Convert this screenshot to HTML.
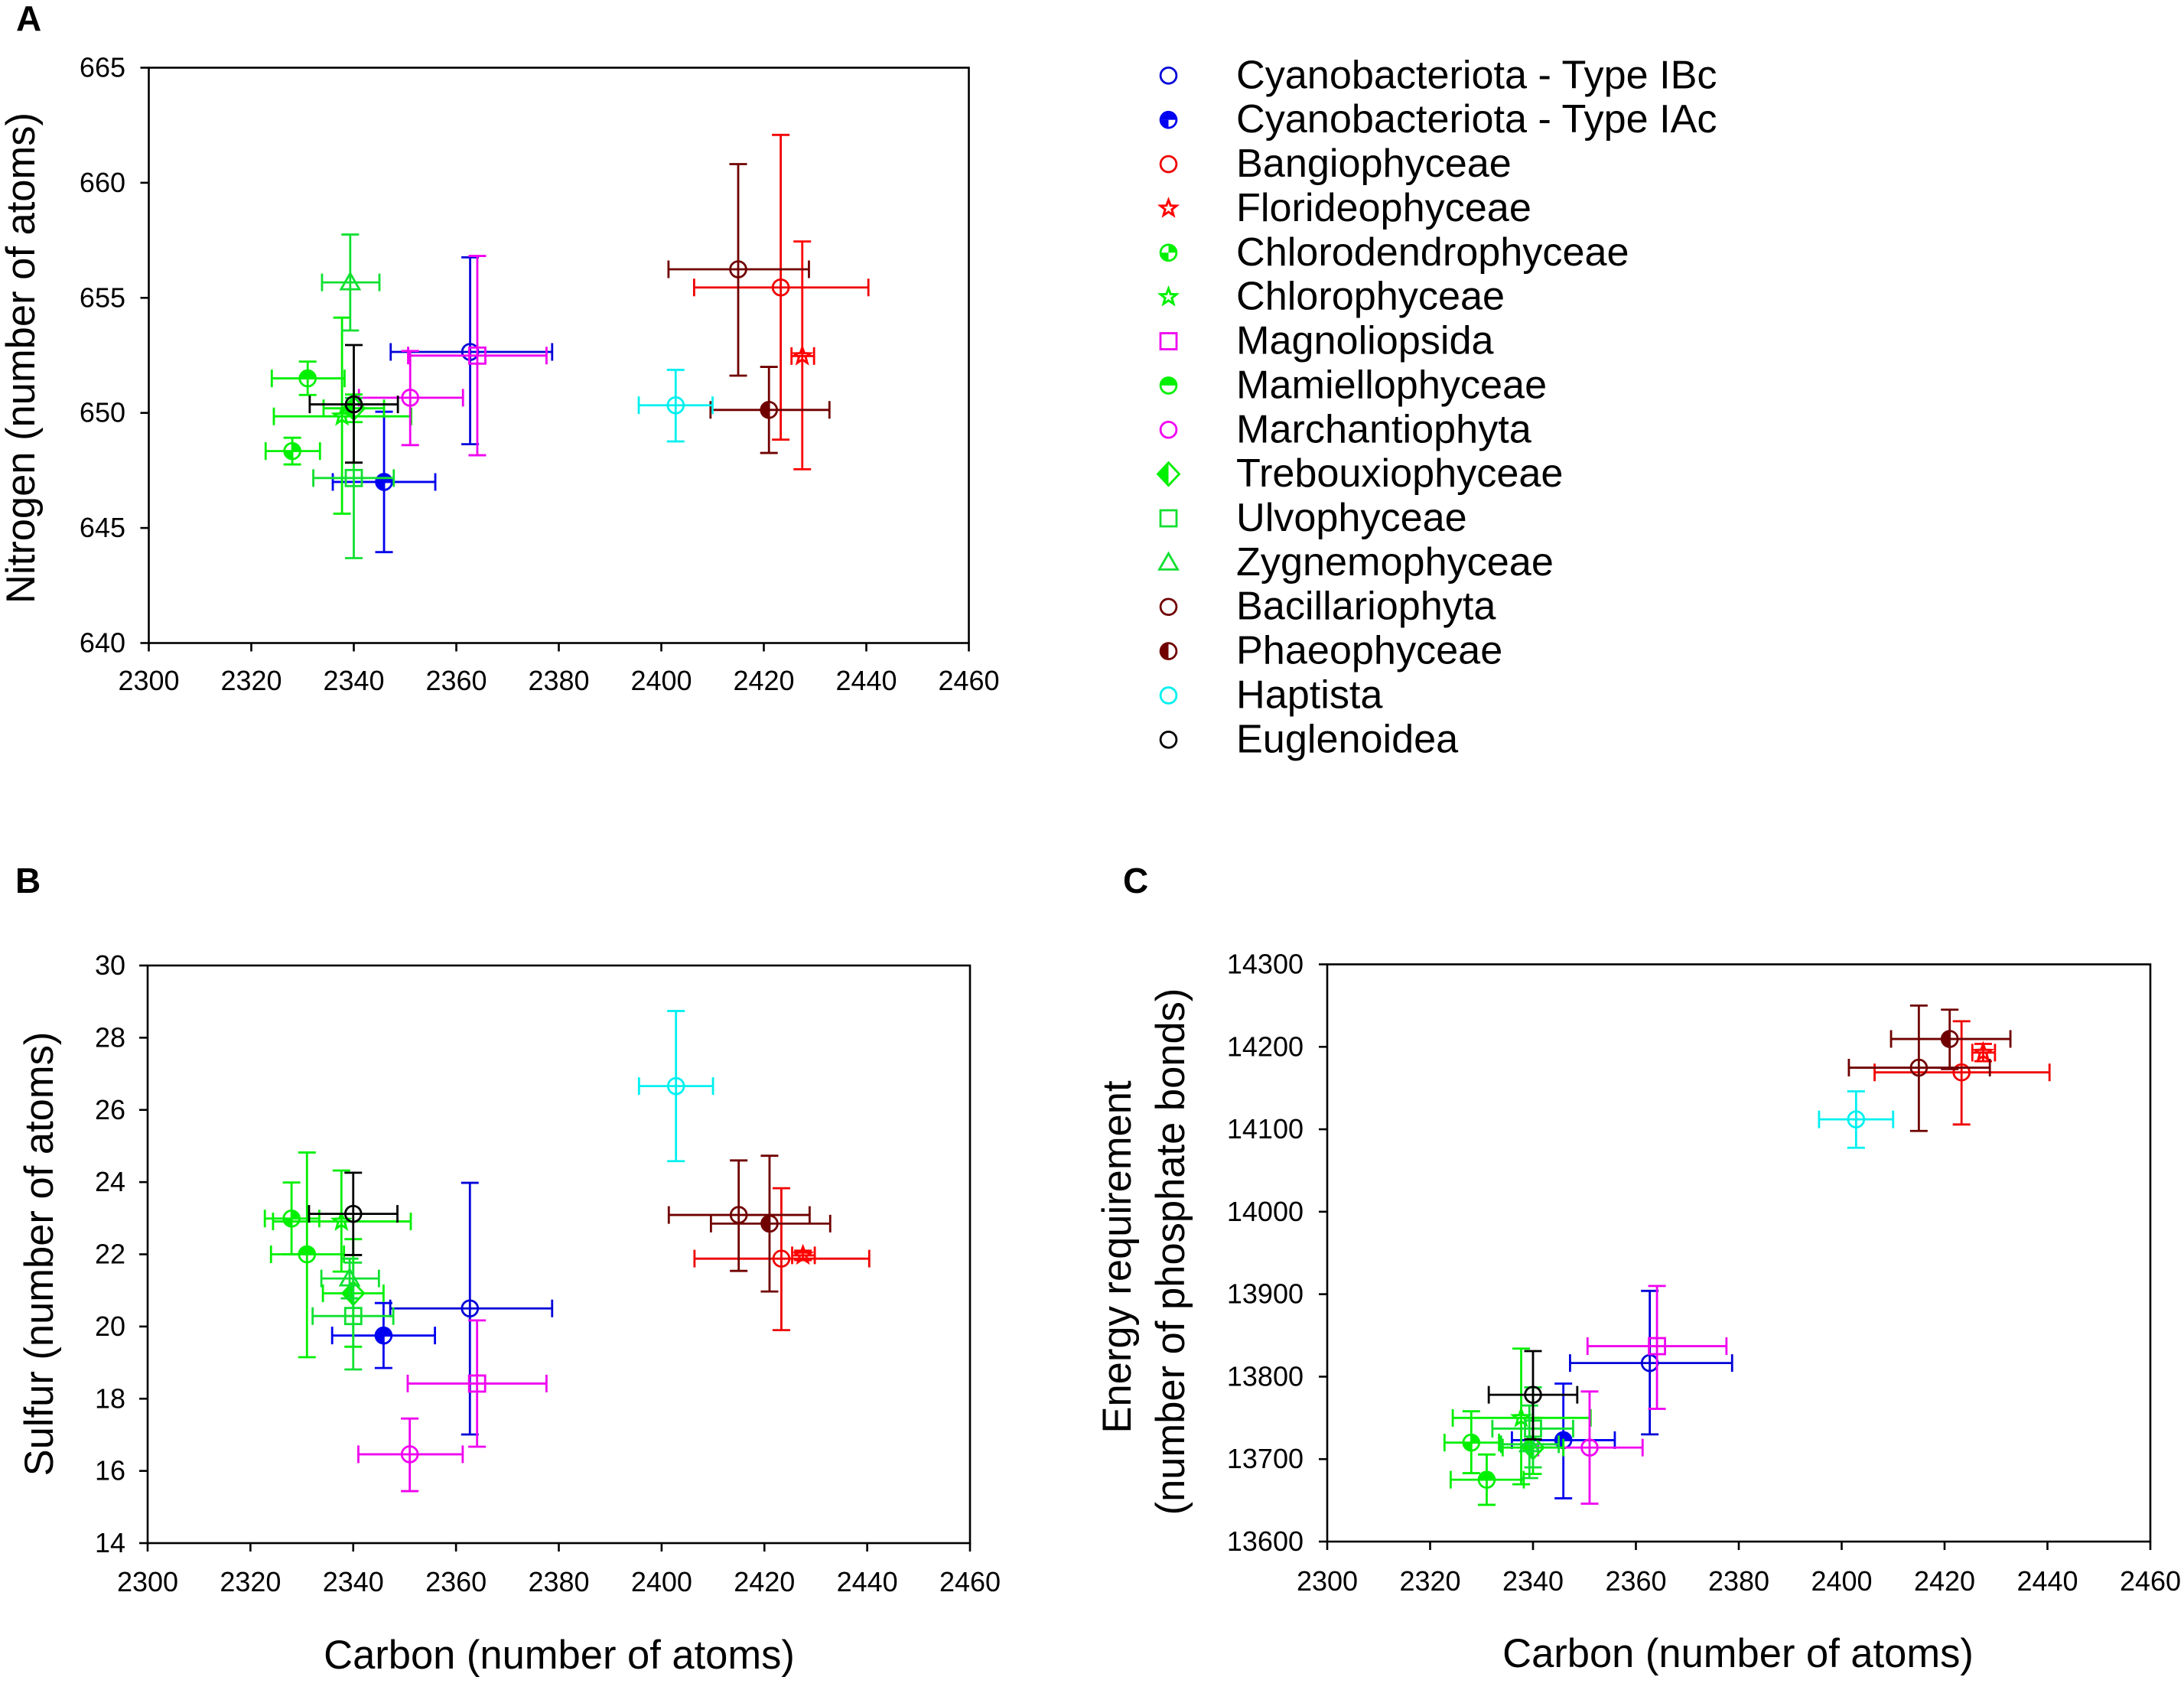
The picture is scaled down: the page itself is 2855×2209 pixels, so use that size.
<!DOCTYPE html>
<html lang="en">
<head>
<meta charset="utf-8">
<title>Elemental composition scatter panels</title>
<style>
html,body{margin:0;padding:0;background:#fff;}
svg{display:block;font-family:"Liberation Sans",Arial,sans-serif;}
</style>
</head>
<body>
<svg id="figure" xmlns="http://www.w3.org/2000/svg" width="2855" height="2209" viewBox="0 0 2855 2209">
  <rect x="0" y="0" width="2855" height="2209" fill="#fff"/>
  <text x="21" y="40" font-size="46" font-weight="bold">A</text>
  <text x="20" y="1167" font-size="46" font-weight="bold">B</text>
  <text x="1468" y="1167" font-size="46" font-weight="bold">C</text>
  <text transform="translate(45,468) rotate(-90)" text-anchor="middle" font-size="52.5">Nitrogen (number of atoms)</text>
  <text transform="translate(69,1639) rotate(-90)" text-anchor="middle" font-size="52.5">Sulfur (number of atoms)</text>
  <text x="731" y="2181" text-anchor="middle" font-size="52.5">Carbon (number of atoms)</text>
  <text transform="translate(1478,1643) rotate(-90)" text-anchor="middle" font-size="52.5">Energy requirement</text>
  <text transform="translate(1548,1636) rotate(-90)" text-anchor="middle" font-size="52.5">(number of phosphate bonds)</text>
  <text x="2272" y="2179" text-anchor="middle" font-size="52.5">Carbon (number of atoms)</text>
</svg>
<script>
const species = ["Cyanobacteriota - Type IBc","Cyanobacteriota - Type IAc","Bangiophyceae","Florideophyceae","Chlorodendrophyceae","Chlorophyceae","Magnoliopsida","Mamiellophyceae","Marchantiophyta","Trebouxiophyceae","Ulvophyceae","Zygnemophyceae","Bacillariophyta","Phaeophyceae","Haptista","Euglenoidea"];

const carbonMean = [2362.7,2345.9,2423.3,2427.5,2328,2337.7,2364.1,2331,2351,2340,2340,2339.3,2415,2421,2402.8,2340];
const carbonLow  = [2347.2,2335.9,2406.4,2425.4,2322.8,2324.4,2350.6,2324,2341,2334.1,2332.1,2333.8,2401.4,2409.6,2395.6,2331.4];
const carbonHigh = [2378.7,2355.9,2440.4,2429.8,2333.4,2351.2,2377.6,2338.2,2361.3,2345.9,2347.8,2345,2428.8,2432.8,2410,2348.6];

const nitrogenMean = [652.65,647,655.45,652.47,648.34,649.85,652.49,651.5,650.66,650.2,647.17,655.67,656.24,650.13,650.33,650.37];
const nitrogenHigh = [656.76,650.05,662.08,657.45,648.92,654.14,656.82,652.23,652.69,650.8,650.65,657.75,660.81,652,651.87,652.95];
const nitrogenLow  = [648.64,643.95,648.84,647.55,647.76,645.62,648.16,650.78,648.6,649.6,643.69,653.58,651.62,648.26,648.76,647.84];

const sulfurMean = [20.5,19.75,21.88,21.97,22.99,22.91,18.42,22,16.46,20.92,20.29,21.33,23.09,22.85,26.66,23.12];
const sulfurHigh = [23.98,20.65,23.83,22.1,23.99,24.32,20.17,24.82,17.45,22.42,21.77,21.88,24.6,24.73,28.74,24.26];
const sulfurLow  = [17.01,18.85,19.9,21.84,22,21.52,16.67,19.15,15.44,19.44,18.81,20.78,21.54,20.97,24.58,21.98];

const energyMean = [13816.5,13723,14169,14193,13720,13750,13837,13675,13714,13714,13737,13718,14174.7,14209.5,14112,13778];
const energyHigh = [13904,13791.6,14231,14203.5,13758,13834,13910,13705.6,13782,13750,13787,13765,14250,14245,14146,13831];
const energyLow  = [13730,13652.5,14105.8,14182.5,13683,13669.5,13761,13644.6,13646,13682,13690,13677,14098,14173,14077.6,13724];

const xTickValues = [2300,2320,2340,2360,2380,2400,2420,2440,2460];
const nitrogenTicks = [640,645,650,655,660,665];
const sulfurTicks = [14,16,18,20,22,24,26,28,30];
const energyTicks = [13600,13700,13800,13900,14000,14100,14200,14300];

const markerKinds = ["ring","threequarters","ring","star","quarters","star","square","tophalf","ring","diamond","square","triangle","ring","lefthalf","ring","ring"];
const seriesColors = ["#0000d8","#0000f0","#f00000","#ff0000","#00f000","#00f000","#f000f0","#00f000","#f000f0","#00f000","#10e030","#10e030","#700000","#700000","#00f0f0","#000000"];

const NS = "http://www.w3.org/2000/svg";
const root = document.getElementById("figure");

function svgEl(tag, attrs, parent) {
  const e = document.createElementNS(NS, tag);
  for (const k in attrs) e.setAttribute(k, attrs[k]);
  parent.appendChild(e);
  return e;
}
function slug(s) { return s.toLowerCase().replace(/[^a-z0-9]+/g, "-"); }

function drawMarker(parent, kind, color, px, py) {
  const g = svgEl("g", {transform: "translate(" + px + "," + py + ")", fill: "none", stroke: color, "stroke-width": 2.8}, parent);
  const r = 10.4;
  if (kind === "ring" || kind === "quarters" || kind === "threequarters" || kind === "tophalf" || kind === "lefthalf") {
    if (kind === "quarters" || kind === "threequarters") {
      svgEl("path", {d: "M0 0L0 " + (-r) + "A" + r + " " + r + " 0 0 1 " + r + " 0Z", fill: color, stroke: "none"}, g);
      svgEl("path", {d: "M0 0L0 " + r + "A" + r + " " + r + " 0 0 1 " + (-r) + " 0Z", fill: color, stroke: "none"}, g);
    }
    if (kind === "threequarters") {
      svgEl("path", {d: "M0 0L" + (-r) + " 0A" + r + " " + r + " 0 0 1 0 " + (-r) + "Z", fill: color, stroke: "none"}, g);
    }
    if (kind === "tophalf") {
      svgEl("path", {d: "M" + (-r) + " 0A" + r + " " + r + " 0 0 1 " + r + " 0Z", fill: color, stroke: "none"}, g);
    }
    if (kind === "lefthalf") {
      svgEl("path", {d: "M0 " + (-r) + "A" + r + " " + r + " 0 0 0 0 " + r + "Z", fill: color, stroke: "none"}, g);
    }
    svgEl("circle", {cx: 0, cy: 0, r: r}, g);
  } else if (kind === "square") {
    svgEl("rect", {x: -10.5, y: -10.5, width: 21, height: 21}, g);
  } else if (kind === "triangle") {
    svgEl("path", {d: "M0 -12L12 9L-12 9Z"}, g);
  } else if (kind === "diamond") {
    svgEl("path", {d: "M0 -15L0 15L-14 0Z", fill: color, stroke: "none"}, g);
    svgEl("path", {d: "M0 -15L14 0L0 15L-14 0Z"}, g);
  } else if (kind === "star") {
    let d = "";
    for (let i = 0; i < 10; i++) {
      const a = -Math.PI / 2 + i * Math.PI / 5;
      const rr = i % 2 === 0 ? 11 : 4.6;
      d += (i === 0 ? "M" : "L") + (rr * Math.cos(a)).toFixed(2) + " " + (rr * Math.sin(a)).toFixed(2);
    }
    svgEl("path", {d: d + "Z", "stroke-width": 3}, g);
  }
  return g;
}

function drawPanel(cfg) {
  const panel = svgEl("g", {}, root);
  
  

  const xMin = xTickValues[0], xMax = xTickValues[xTickValues.length - 1];
  const yTicks = cfg.yTicks;
  const yMin = yTicks[0], yMax = yTicks[yTicks.length - 1];
  const xScale = v => cfg.left + (v - xMin) / (xMax - xMin) * (cfg.right - cfg.left);
  const yScale = v => cfg.bottom - (v - yMin) / (yMax - yMin) * (cfg.bottom - cfg.top);

  const frame = svgEl("rect", {x: cfg.left, y: cfg.top, width: cfg.right - cfg.left, height: cfg.bottom - cfg.top, fill: "none", stroke: "#000", "stroke-width": 2.6}, panel);
  
  

  xTickValues.forEach(v => {
    const tick = svgEl("line", {x1: xScale(v), x2: xScale(v), y1: cfg.bottom, y2: cfg.bottom + 11, stroke: "#000", "stroke-width": 2.6}, panel);
    
    
    const label = svgEl("text", {x: xScale(v), y: cfg.xLabelY, "text-anchor": "middle", "font-size": 36}, panel);
    
    
    label.textContent = v;
  });
  yTicks.forEach(v => {
    const tick = svgEl("line", {x1: cfg.left - 11, x2: cfg.left, y1: yScale(v), y2: yScale(v), stroke: "#000", "stroke-width": 2.6}, panel);
    
    
    const label = svgEl("text", {x: cfg.yLabelX, y: yScale(v) + 12, "text-anchor": "end", "font-size": 36}, panel);
    
    
    label.textContent = v;
  });

  species.forEach((name, i) => {
    const color = seriesColors[i];
    const cx = xScale(carbonMean[i]), cy = yScale(cfg.mean[i]);
    const xl = xScale(carbonLow[i]), xh = xScale(carbonHigh[i]);
    const yh = yScale(cfg.high[i]), yl = yScale(cfg.low[i]);
    const g = svgEl("g", {stroke: color, "stroke-width": 2.8, fill: "none"}, panel);
    
    
    const cap = 11.5;
    const d = "M" + xl + " " + cy + "L" + xh + " " + cy +
      "M" + xl + " " + (cy - cap) + "L" + xl + " " + (cy + cap) +
      "M" + xh + " " + (cy - cap) + "L" + xh + " " + (cy + cap) +
      "M" + cx + " " + yh + "L" + cx + " " + yl +
      "M" + (cx - cap) + " " + yh + "L" + (cx + cap) + " " + yh +
      "M" + (cx - cap) + " " + yl + "L" + (cx + cap) + " " + yl;
    const bars = svgEl("path", {d: d}, g);
    
    
    const mark = drawMarker(g, markerKinds[i], color, cx, cy);
    
    
  });
}

drawPanel({id: "a", left: 194.5, right: 1266.5, top: 88.5, bottom: 840.5, xLabelY: 902, yLabelX: 164, yTicks: nitrogenTicks, mean: nitrogenMean, high: nitrogenHigh, low: nitrogenLow});
drawPanel({id: "b", left: 193, right: 1268, top: 1262, bottom: 2017, xLabelY: 2080, yLabelX: 164, yTicks: sulfurTicks, mean: sulfurMean, high: sulfurHigh, low: sulfurLow});
drawPanel({id: "c", left: 1735, right: 2811, top: 1260.5, bottom: 2015, xLabelY: 2079, yLabelX: 1704, yTicks: energyTicks, mean: energyMean, high: energyHigh, low: energyLow});

const legend = svgEl("g", {}, root);


species.forEach((name, i) => {
  const rowY = 98.8 + i * 57.87;
  const row = svgEl("g", {}, legend);
  
  
  const icon = drawMarker(row, markerKinds[i], seriesColors[i], 1527.5, rowY);
  
  
  const label = svgEl("text", {x: 1616, y: rowY + 16.5, "font-size": 52.2}, row);
  
  
  label.textContent = name;
});
</script>
</body>
</html>
